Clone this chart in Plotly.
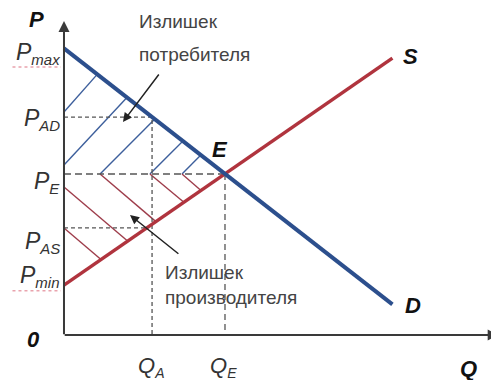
import plotly.graph_objects as go

# curves (Q, P)
demand_q = [0, 20.4]
demand_p = [17.8, 1.9]
supply_q = [0, 20.4]
supply_p = [3.1, 17.2]

# reference levels
q_a, q_e = 5.47, 10.0
p_max, p_ad, p_e, p_as, p_min = 17.8, 13.53, 10.0, 6.65, 3.1
q_as = 5.15  # where P_AS meets S

price_names = [("P", "max"), ("P", "AD"), ("P", "E"), ("P", "AS"), ("P", "min")]
price_vals = [p_max, p_ad, p_e, p_as, p_min]
qty_names = [("Q", "A"), ("Q", "E")]
qty_vals = [q_a, q_e]

# hatch segments
cons_hatch = [((0, 13.85), (2.05, 16.17)), ((0, 10.56), (3.91, 14.75)),
              ((2.24, 10), (5.63, 13.40)), ((5.34, 10), (7.39, 12.05)),
              ((7.33, 10), (8.50, 11.18))]
prod_hatch = [((0, 9.19), (3.95, 5.84)), ((0, 6.65), (2.30, 4.69)),
              ((2.24, 10), (5.71, 7.04)), ((5.34, 10), (7.43, 8.26)),
              ((7.33, 10), (8.51, 8.98))]

BLUE = "#2c4f8d"
RED = "#b0343e"
FONT = "Arial, Liberation Sans, sans-serif"

fig = go.Figure()


def segs(pairs):
    xs, ys = [], []
    for (a, b) in pairs:
        xs += [a[0], b[0], None]
        ys += [a[1], b[1], None]
    return xs, ys


hx, hy = segs(cons_hatch)
fig.add_trace(go.Scatter(x=hx, y=hy, mode="lines", line=dict(color="#3d5f9c", width=1.4)))
hx, hy = segs(prod_hatch)
fig.add_trace(go.Scatter(x=hx, y=hy, mode="lines", line=dict(color="#9e3d4b", width=1.4)))

dash_col = "#555555"
fig.add_trace(go.Scatter(x=[0, q_a, q_a], y=[p_ad, p_ad, 0], mode="lines",
                         line=dict(color=dash_col, width=1.3, dash="4px,3px")))
fig.add_trace(go.Scatter(x=[0, q_as], y=[p_as, p_as], mode="lines",
                         line=dict(color=dash_col, width=1.3, dash="4px,3px")))
fig.add_trace(go.Scatter(x=[0, q_e], y=[p_e, p_e], mode="lines",
                         line=dict(color=dash_col, width=1.3, dash="7px,4px")))
fig.add_trace(go.Scatter(x=[q_e, q_e], y=[p_e, 0], mode="lines",
                         line=dict(color=dash_col, width=1.3, dash="6px,4px")))

fig.add_trace(go.Scatter(x=supply_q, y=supply_p, mode="lines", line=dict(color=RED, width=3.5)))
fig.add_trace(go.Scatter(x=demand_q, y=demand_p, mode="lines", line=dict(color=BLUE, width=4)))

ann = []
# axes with arrows
ann.append(dict(x=0, y=19.5, ax=0, ay=-0.05, xref="x", yref="y", axref="x", ayref="y",
                showarrow=True, arrowhead=2, arrowsize=1.1, arrowwidth=2, arrowcolor="#3a3a3a", text=""))
ann.append(dict(x=27.0, y=0, ax=-0.05, ay=0, xref="x", yref="y", axref="x", ayref="y",
                showarrow=True, arrowhead=2, arrowsize=1.1, arrowwidth=2, arrowcolor="#3a3a3a", text=""))

# surplus arrows
ann.append(dict(x=3.66, y=13.23, ax=5.96, ay=16.27, xref="x", yref="y", axref="x", ayref="y",
                showarrow=True, arrowhead=2, arrowsize=1.2, arrowwidth=1.5, arrowcolor="#222", text=""))
ann.append(dict(x=4.1, y=7.45, ax=7.2, ay=4.97, xref="x", yref="y", axref="x", ayref="y",
                showarrow=True, arrowhead=2, arrowsize=1.2, arrowwidth=1.5, arrowcolor="#222", text=""))


def sub(main, s, size):
    return ("<i>" + main + "<sub><span style='font-size:%dpx'>" % size + s + "</span></sub></i>")


# price labels
label_shift = [-3, 0, -6, -13, 11]
for (m, s), val, sh in zip(price_names, price_vals, label_shift):
    ann.append(dict(x=-0.12, y=val, xref="x", yref="y", text=sub(m, s, 15), showarrow=False,
                    xanchor="right", yanchor="middle", yshift=sh - 2,
                    font=dict(family=FONT, size=23, color="#333")))
for (m, s), val in zip(qty_names, qty_vals):
    ann.append(dict(x=val, y=0, xref="x", yref="y", text=sub(m, s, 14), showarrow=False,
                    xanchor="center", yanchor="middle", yshift=-32, xshift=-1,
                    font=dict(family=FONT, size=22, color="#333")))

big = dict(family=FONT, size=22, color="#111")
for txt, x, y in [("P", -1.68, 19.6), ("0", -1.9, -0.25), ("Q", 25.1, -2.05),
                  ("S", 21.5, 17.3), ("D", 21.7, 1.85), ("E", 9.7, 11.5)]:
    ann.append(dict(x=x, y=y, xref="x", yref="y", text="<b><i>" + txt + "</i></b>",
                    showarrow=False, font=big))

lab = dict(family=FONT, size=19, color="#444")
for txt, x, y in [("Излишек", 4.53, 19.45), ("потребителя", 4.53, 17.4),
                  ("Излишек", 6.15, 3.9), ("производителя", 6.15, 2.3)]:
    ann.append(dict(x=x, y=y, xref="x", yref="y", text=txt, showarrow=False,
                    xanchor="left", yanchor="middle", font=lab))

# faint spell-check squiggles under P_max and P_min, as in the source image
shapes = []
for val, off in [(p_max, 1.15), (p_min, 0.35)]:
    shapes.append(dict(type="line", xref="x", yref="y", x0=-3.2, x1=-0.2, y0=val - off, y1=val - off,
                       line=dict(color="#e9a3ad", width=1.5, dash="dot")))

# page body keeps its 8px margin, so the figure is 8px smaller than the window
fig.update_layout(
    width=491, height=372,
    margin=dict(l=0, r=0, t=0, b=0),
    plot_bgcolor="white", paper_bgcolor="white",
    showlegend=False,
    annotations=ann,
    shapes=shapes,
    xaxis=dict(range=[-3.478, 27.02], visible=False, fixedrange=True),
    yaxis=dict(range=[-2.795, 20.31], visible=False, fixedrange=True),
)

fig.write_html("out.html")
